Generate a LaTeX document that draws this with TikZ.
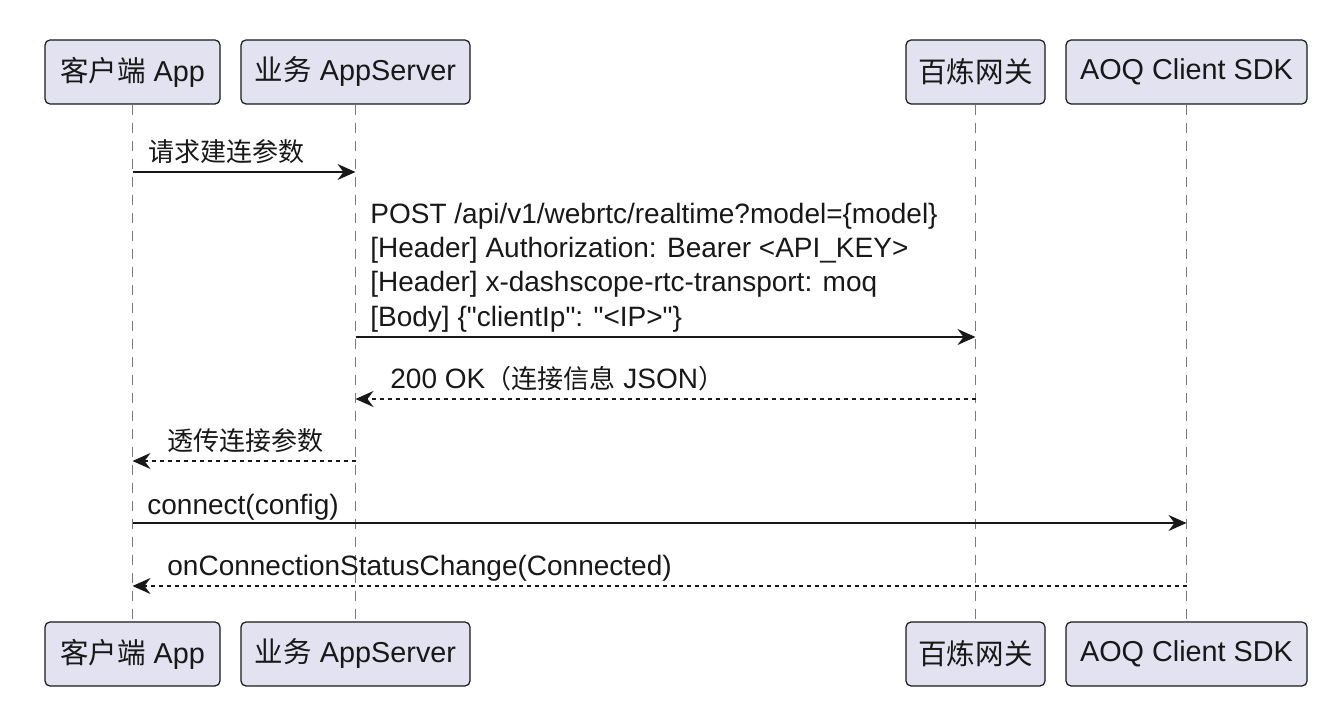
\documentclass[tikz,border=0pt]{standalone}
\usepackage{fontspec}
\setmainfont{Liberation Sans}[Ligatures=TeXOff]
\newfontfamily\cjk[Scale=0.93]{Noto Sans CJK SC}
\newfontfamily\cjkbox[Scale=0.99]{Noto Sans CJK SC}
\usetikzlibrary{arrows.meta}
\definecolor{boxfill}{HTML}{E2E2F0}
\definecolor{ink}{HTML}{181818}
\definecolor{lifegray}{HTML}{7A7A7A}
\tikzset{
  partbox/.style={draw=ink, line width=0.6pt, fill=boxfill, rounded corners=2.5pt,
    minimum height=32pt, inner sep=0pt, text=ink, font=\fontsize{14.4}{17}\selectfont},
  lifeline/.style={draw=lifegray, line width=0.7pt, dash pattern=on 5pt off 4pt},
  msg/.style={draw=ink, line width=1pt, -{Stealth[length=9pt,width=8pt,inset=3pt]}},
  reply/.style={msg, dash pattern=on 2pt off 2pt},
  lbl/.style={anchor=base west, inner sep=0pt, text=ink, font=\fontsize{14}{17}\selectfont},
}
\begin{document}
\begin{tikzpicture}[x=0.5pt,y=-0.5pt]
\useasboundingbox (0,0) rectangle (1340,726);
% participants top
\node[partbox, minimum width=87.5pt] (a1) at (132.5,72) {{\cjkbox 客户端} App};
\node[partbox, minimum width=114.5pt] (a2) at (355.5,72) {{\cjkbox 业务} AppServer};
\node[partbox, minimum width=69.5pt] (a3) at (975.5,72) {{\cjkbox 百炼网关}};
\node[partbox, minimum width=120.5pt] (a4) at (1186.5,72) {AOQ Client SDK};
% participants bottom
\node[partbox, minimum width=87.5pt] (b1) at (132.5,654) {{\cjkbox 客户端} App};
\node[partbox, minimum width=114.5pt] (b2) at (355.5,654) {{\cjkbox 业务} AppServer};
\node[partbox, minimum width=69.5pt] (b3) at (975.5,654) {{\cjkbox 百炼网关}};
\node[partbox, minimum width=120.5pt] (b4) at (1186.5,654) {AOQ Client SDK};
% lifelines
\draw[lifeline] (a1.south) -- (b1.north);
\draw[lifeline] (a2.south) -- (b2.north);
\draw[lifeline] (a3.south) -- (b3.north);
\draw[lifeline] (a4.south) -- (b4.north);
% message rows
\coordinate (y1) at (0,172);
\coordinate (y2) at (0,337);
\coordinate (y3) at (0,399);
\coordinate (y4) at (0,461);
\coordinate (y5) at (0,523);
\coordinate (y6) at (0,586);
% 1
\draw[msg] (a1 |- y1) -- (a2 |- y1);
\node[lbl] (m1) at (148,162) {\cjk 请求建连参数};
% 2
\draw[msg] (a2 |- y2) -- (a3 |- y2);
\node[lbl] (m2a) at (370,224) {POST /api/v1/webrtc/realtime?model=\{model\}};
\node[lbl] (m2b) at (370,258) {[Header] Authorization: Bearer <API\_KEY>};
\node[lbl] (m2c) at (370,292) {[Header] x-dashscope-rtc-transport: moq};
\node[lbl] (m2d) at (370,327) {[Body] \{"clientIp": "<IP>"\}};
% 3
\draw[reply] (a3 |- y3) -- (a2 |- y3);
\node[lbl] (m3) at (390,389) {200 OK{\cjk （连接信息} JSON{\cjk ）}};
% 4
\draw[reply] (a2 |- y4) -- (a1 |- y4);
\node[lbl] (m4) at (167,451) {\cjk 透传连接参数};
% 5
\draw[msg] (a1 |- y5) -- (a4 |- y5);
\node[lbl] (m5) at (147,515) {connect(config)};
% 6
\draw[reply] (a4 |- y6) -- (a1 |- y6);
\node[lbl] (m6) at (167,576) {onConnectionStatusChange(Connected)};
\end{tikzpicture}
\end{document}
